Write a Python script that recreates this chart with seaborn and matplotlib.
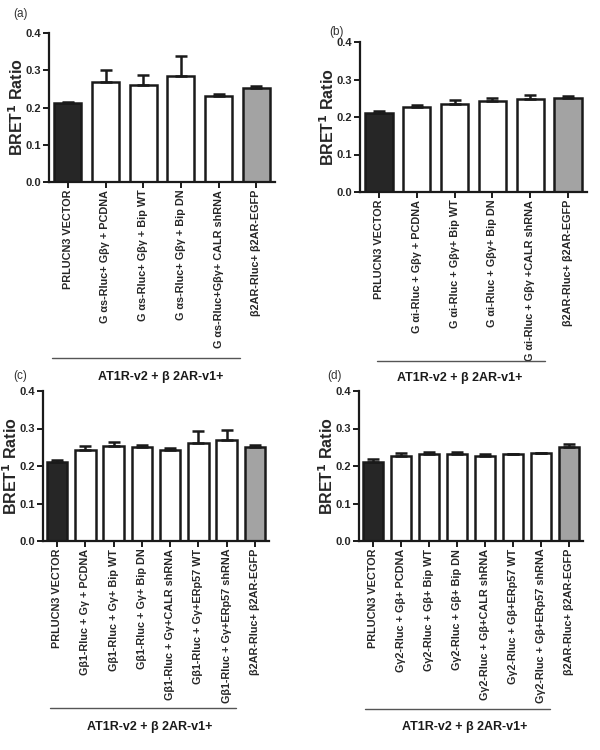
import matplotlib
matplotlib.use("Agg")
import matplotlib.pyplot as plt
from matplotlib.lines import Line2D
import seaborn as sns
import pandas as pd
import numpy as np

# ---------------- data ----------------
labels_a = ["PRLUCN3 VECTOR", "G αs-Rluc+ Gβγ + PCDNA", "G αs-Rluc+ Gβγ + Bip WT",
            "G αs-Rluc+ Gβγ + Bip DN", "G αs-Rluc+Gβγ+ CALR shRNA", "β2AR-Rluc+ β2AR-EGFP"]
values_a = [0.211, 0.268, 0.260, 0.284, 0.232, 0.252]
errors_a = [0.005, 0.033, 0.027, 0.054, 0.003, 0.005]

labels_b = ["PRLUCN3 VECTOR", "G αi-Rluc + Gβγ + PCDNA", "G αi-Rluc + Gβγ+ Bip WT",
            "G αi-Rluc + Gβγ+ Bip DN", "G αi-Rluc + Gβγ +CALR shRNA", "β2AR-Rluc+ β2AR-EGFP"]
values_b = [0.210, 0.228, 0.235, 0.242, 0.248, 0.251]
errors_b = [0.007, 0.003, 0.011, 0.010, 0.010, 0.005]

labels_c = ["PRLUCN3 VECTOR", "Gβ1-Rluc + Gγ + PCDNA", "Gβ1-Rluc + Gγ+ Bip WT",
            "Gβ1-Rluc + Gγ+ Bip DN", "Gβ1-Rluc + Gγ+CALR shRNA", "Gβ1-Rluc + Gγ+ERp57 WT",
            "Gβ1-Rluc + Gγ+ERp57 shRNA", "β2AR-Rluc+ β2AR-EGFP"]
values_c = [0.211, 0.244, 0.253, 0.252, 0.244, 0.262, 0.269, 0.252]
errors_c = [0.005, 0.009, 0.011, 0.005, 0.005, 0.032, 0.027, 0.004]

labels_d = ["PRLUCN3 VECTOR", "Gγ2-Rluc + Gβ+ PCDNA", "Gγ2-Rluc + Gβ+ Bip WT",
            "Gγ2-Rluc + Gβ+ Bip DN", "Gγ2-Rluc + Gβ+CALR shRNA", "Gγ2-Rluc + Gβ+ERp57 WT",
            "Gγ2-Rluc + Gβ+ERp57 shRNA", "β2AR-Rluc+ β2AR-EGFP"]
values_d = [0.212, 0.227, 0.232, 0.231, 0.228, 0.231, 0.235, 0.252]
errors_d = [0.006, 0.007, 0.005, 0.006, 0.003, 0.001, 0.001, 0.008]

yticks = [0.0, 0.1, 0.2, 0.3, 0.4]
group_label = "AT1R-v2 + β 2AR-v1+"

# ---------------- style ----------------
sns.set_theme(style="ticks")
plt.rcParams['font.family'] = ['Liberation Sans', 'DejaVu Sans']

W, H = 600, 750
fig = plt.figure(figsize=(6, 7.5), dpi=100)


def make_axes(left, right, top, bottom):
    return fig.add_axes([left / W, 1 - bottom / H, (right - left) / W, (bottom - top) / H])


def draw_panel(ax, labels, values, errors, label_offset_px, width_px):
    n = len(labels)
    colors = ["#262626"] + ["#ffffff"] * (n - 2) + ["#a3a3a3"]
    df = pd.DataFrame({"cond": labels, "val": values})
    sns.barplot(data=df, x="cond", y="val", hue="cond", palette=colors, legend=False,
                ax=ax, width=0.72, edgecolor="#1a1a1a", linewidth=1.8, saturation=1)
    x = np.arange(n)
    ax.errorbar(x, values, yerr=[np.zeros(n), errors], fmt="none", ecolor="#1a1a1a",
                elinewidth=1.8, capsize=4.5, capthick=1.8, zorder=5)
    ax.set_xlim(-0.5, n - 0.5)
    ax.set_ylim(0, 0.4)
    ax.set_yticks(yticks)
    ax.set_yticklabels([f"{t:.1f}" for t in yticks], fontsize=8, fontweight="bold")
    ax.set_xticks(x)
    ax.set_xticklabels(labels, rotation=90, fontsize=7.8, fontweight="bold",
                       ha="center", va="top")
    ax.set_xlabel("")
    ax.set_ylabel("BRET$^{\\mathbf{1}}$ Ratio", fontsize=11.5, fontweight="bold")
    ax.yaxis.set_label_coords(-label_offset_px / width_px, 0.5)
    for s in ["top", "right"]:
        ax.spines[s].set_visible(False)
    for s in ["left", "bottom"]:
        ax.spines[s].set_linewidth(1.6)
        ax.spines[s].set_color("#1a1a1a")
    ax.tick_params(axis="both", width=1.4, length=4, color="#1a1a1a", pad=1.5)
    ax.set_facecolor("white")


ax_a = make_axes(49, 275, 33, 182)
ax_b = make_axes(360, 587, 42, 192)
ax_c = make_axes(43, 269, 391, 541)
ax_d = make_axes(359, 583, 391, 541)

draw_panel(ax_a, labels_a, values_a, errors_a, 23, 226)
draw_panel(ax_b, labels_b, values_b, errors_b, 23, 227)
draw_panel(ax_c, labels_c, values_c, errors_c, 23, 226)
draw_panel(ax_d, labels_d, values_d, errors_d, 23, 224)

# panel letters
for txt, px, py in [("(a)", 13, 14), ("(b)", 329, 32), ("(c)", 13, 376), ("(d)", 327, 376)]:
    fig.text(px / W, 1 - py / H, txt, fontsize=8.5, color="#333333", ha="left", va="center")

# group lines and labels
for x0, x1, ly, tx, ty in [(52, 240, 358, 161, 377), (377, 545, 361, 460, 378),
                           (50, 236, 708, 150, 727), (365, 550, 709, 465, 727)]:
    fig.add_artist(Line2D([x0 / W, x1 / W], [1 - ly / H, 1 - ly / H],
                          transform=fig.transFigure, color="#555555", lw=1.0))
    fig.text(tx / W, 1 - ty / H, group_label, fontsize=9, fontweight="bold",
             ha="center", va="center", color="#1a1a1a")

fig.savefig("out.png", dpi=100, facecolor="white")
